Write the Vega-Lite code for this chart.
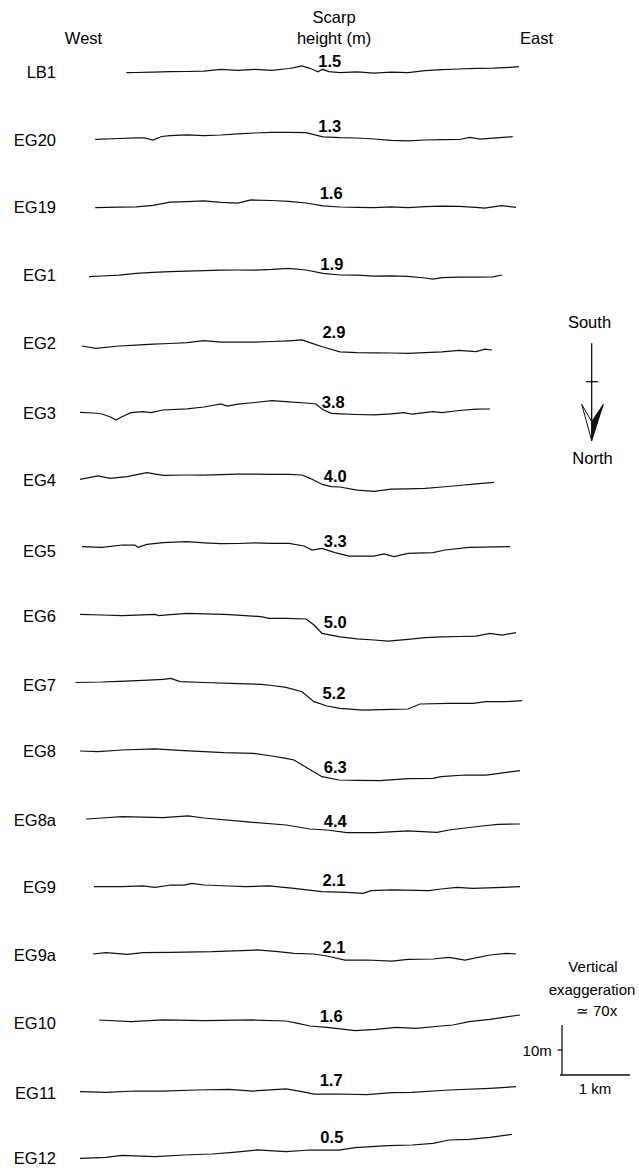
{
"$schema": "https://vega.github.io/schema/vega-lite/v6.json",
"width": 639, "height": 1168, "padding": 0, "autosize": {"type": "none"},
"background": "white",
"config": {"view": {"stroke": null}, "text": {"font": "Liberation Sans", "fill": "#000"}},
"datasets": {
"profiles": [
{"profile":"LB1","km":1.86,"m":-14.54},{"profile":"LB1","km":2.0,"m":-14.5},{"profile":"LB1","km":2.25,"m":-14.44},{"profile":"LB1","km":2.5,"m":-14.34},{"profile":"LB1","km":2.75,"m":-14.3},{"profile":"LB1","km":3.0,"m":-14.24},{"profile":"LB1","km":3.25,"m":-13.88},{"profile":"LB1","km":3.5,"m":-14.06},{"profile":"LB1","km":3.75,"m":-13.86},{"profile":"LB1","km":4.0,"m":-14.06},{"profile":"LB1","km":4.25,"m":-13.7},{"profile":"LB1","km":4.324,"m":-13.54},{"profile":"LB1","km":4.441,"m":-13.2},{"profile":"LB1","km":4.559,"m":-13.66},{"profile":"LB1","km":4.676,"m":-14.34},{"profile":"LB1","km":4.743,"m":-13.86},{"profile":"LB1","km":4.838,"m":-14.34},{"profile":"LB1","km":5.0,"m":-14.54},{"profile":"LB1","km":5.25,"m":-14.36},{"profile":"LB1","km":5.5,"m":-14.6},{"profile":"LB1","km":5.75,"m":-14.42},{"profile":"LB1","km":6.0,"m":-14.52},{"profile":"LB1","km":6.25,"m":-14.14},{"profile":"LB1","km":6.5,"m":-13.94},{"profile":"LB1","km":6.75,"m":-13.8},{"profile":"LB1","km":7.0,"m":-13.66},{"profile":"LB1","km":7.25,"m":-13.62},{"profile":"LB1","km":7.5,"m":-13.46},{"profile":"LB1","km":7.632,"m":-13.34},
{"profile":"EG20","km":1.4,"m":-27.86},{"profile":"EG20","km":1.75,"m":-27.7},{"profile":"EG20","km":2.0,"m":-27.56},{"profile":"EG20","km":2.125,"m":-27.56},{"profile":"EG20","km":2.25,"m":-28.0},{"profile":"EG20","km":2.375,"m":-27.3},{"profile":"EG20","km":2.5,"m":-27.12},{"profile":"EG20","km":2.75,"m":-27.0},{"profile":"EG20","km":3.0,"m":-27.1},{"profile":"EG20","km":3.25,"m":-27.0},{"profile":"EG20","km":3.5,"m":-26.76},{"profile":"EG20","km":3.75,"m":-26.6},{"profile":"EG20","km":4.0,"m":-26.48},{"profile":"EG20","km":4.25,"m":-26.46},{"profile":"EG20","km":4.5,"m":-26.52},{"profile":"EG20","km":4.75,"m":-27.36},{"profile":"EG20","km":5.0,"m":-27.54},{"profile":"EG20","km":5.25,"m":-27.6},{"profile":"EG20","km":5.5,"m":-27.8},{"profile":"EG20","km":5.75,"m":-28.06},{"profile":"EG20","km":6.0,"m":-28.16},{"profile":"EG20","km":6.25,"m":-28.0},{"profile":"EG20","km":6.5,"m":-27.94},{"profile":"EG20","km":6.75,"m":-27.9},{"profile":"EG20","km":6.91,"m":-27.46},{"profile":"EG20","km":7.06,"m":-27.8},{"profile":"EG20","km":7.25,"m":-27.64},{"profile":"EG20","km":7.54,"m":-27.34},
{"profile":"EG19","km":1.4,"m":-41.54},{"profile":"EG19","km":1.75,"m":-41.44},{"profile":"EG19","km":2.0,"m":-41.38},{"profile":"EG19","km":2.25,"m":-41.06},{"profile":"EG19","km":2.5,"m":-40.44},{"profile":"EG19","km":2.75,"m":-40.34},{"profile":"EG19","km":3.0,"m":-40.2},{"profile":"EG19","km":3.25,"m":-40.46},{"profile":"EG19","km":3.5,"m":-40.64},{"profile":"EG19","km":3.69,"m":-40.0},{"profile":"EG19","km":4.0,"m":-40.1},{"profile":"EG19","km":4.25,"m":-40.28},{"profile":"EG19","km":4.5,"m":-40.6},{"profile":"EG19","km":4.75,"m":-41.16},{"profile":"EG19","km":5.0,"m":-41.4},{"profile":"EG19","km":5.25,"m":-41.46},{"profile":"EG19","km":5.5,"m":-41.52},{"profile":"EG19","km":5.75,"m":-41.36},{"profile":"EG19","km":6.0,"m":-41.5},{"profile":"EG19","km":6.25,"m":-41.34},{"profile":"EG19","km":6.5,"m":-41.22},{"profile":"EG19","km":6.75,"m":-41.26},{"profile":"EG19","km":7.0,"m":-41.46},{"profile":"EG19","km":7.125,"m":-41.64},{"profile":"EG19","km":7.375,"m":-41.14},{"profile":"EG19","km":7.588,"m":-41.46},
{"profile":"EG1","km":1.309,"m":-55.34},{"profile":"EG1","km":1.5,"m":-55.2},{"profile":"EG1","km":1.75,"m":-55.02},{"profile":"EG1","km":2.0,"m":-54.66},{"profile":"EG1","km":2.25,"m":-54.46},{"profile":"EG1","km":2.5,"m":-54.34},{"profile":"EG1","km":2.75,"m":-54.24},{"profile":"EG1","km":3.0,"m":-54.14},{"profile":"EG1","km":3.25,"m":-54.04},{"profile":"EG1","km":3.5,"m":-54.0},{"profile":"EG1","km":3.75,"m":-54.0},{"profile":"EG1","km":4.0,"m":-53.88},{"profile":"EG1","km":4.25,"m":-53.66},{"profile":"EG1","km":4.5,"m":-54.0},{"profile":"EG1","km":4.75,"m":-54.68},{"profile":"EG1","km":5.0,"m":-55.0},{"profile":"EG1","km":5.25,"m":-55.02},{"profile":"EG1","km":5.5,"m":-55.22},{"profile":"EG1","km":5.75,"m":-55.2},{"profile":"EG1","km":6.0,"m":-55.26},{"profile":"EG1","km":6.25,"m":-55.6},{"profile":"EG1","km":6.368,"m":-55.8},{"profile":"EG1","km":6.5,"m":-55.54},{"profile":"EG1","km":6.75,"m":-55.42},{"profile":"EG1","km":7.0,"m":-55.42},{"profile":"EG1","km":7.25,"m":-55.36},{"profile":"EG1","km":7.382,"m":-55.0},
{"profile":"EG2","km":1.206,"m":-69.2},{"profile":"EG2","km":1.412,"m":-69.66},{"profile":"EG2","km":1.75,"m":-69.2},{"profile":"EG2","km":2.0,"m":-69.04},{"profile":"EG2","km":2.25,"m":-68.82},{"profile":"EG2","km":2.5,"m":-68.7},{"profile":"EG2","km":2.75,"m":-68.54},{"profile":"EG2","km":3.0,"m":-68.14},{"profile":"EG2","km":3.25,"m":-68.4},{"profile":"EG2","km":3.5,"m":-68.4},{"profile":"EG2","km":3.75,"m":-68.4},{"profile":"EG2","km":4.0,"m":-68.3},{"profile":"EG2","km":4.25,"m":-68.16},{"profile":"EG2","km":4.441,"m":-68.0},{"profile":"EG2","km":4.559,"m":-68.54},{"profile":"EG2","km":4.75,"m":-69.4},{"profile":"EG2","km":5.0,"m":-70.36},{"profile":"EG2","km":5.25,"m":-70.54},{"profile":"EG2","km":5.5,"m":-70.56},{"profile":"EG2","km":5.75,"m":-70.6},{"profile":"EG2","km":6.0,"m":-70.66},{"profile":"EG2","km":6.25,"m":-70.52},{"profile":"EG2","km":6.5,"m":-70.38},{"profile":"EG2","km":6.75,"m":-70.06},{"profile":"EG2","km":7.0,"m":-70.3},{"profile":"EG2","km":7.132,"m":-69.84},{"profile":"EG2","km":7.235,"m":-70.0},
{"profile":"EG3","km":1.176,"m":-82.46},{"profile":"EG3","km":1.375,"m":-82.6},{"profile":"EG3","km":1.5,"m":-82.8},{"profile":"EG3","km":1.625,"m":-83.4},{"profile":"EG3","km":1.706,"m":-84.0},{"profile":"EG3","km":1.794,"m":-83.34},{"profile":"EG3","km":1.926,"m":-82.54},{"profile":"EG3","km":2.103,"m":-82.34},{"profile":"EG3","km":2.221,"m":-82.54},{"profile":"EG3","km":2.397,"m":-82.0},{"profile":"EG3","km":2.75,"m":-81.76},{"profile":"EG3","km":3.0,"m":-81.4},{"profile":"EG3","km":3.25,"m":-80.8},{"profile":"EG3","km":3.338,"m":-81.2},{"profile":"EG3","km":3.5,"m":-80.84},{"profile":"EG3","km":3.75,"m":-80.5},{"profile":"EG3","km":4.0,"m":-80.14},{"profile":"EG3","km":4.25,"m":-80.38},{"profile":"EG3","km":4.5,"m":-80.6},{"profile":"EG3","km":4.647,"m":-80.8},{"profile":"EG3","km":4.75,"m":-81.96},{"profile":"EG3","km":4.875,"m":-82.66},{"profile":"EG3","km":5.0,"m":-82.76},{"profile":"EG3","km":5.25,"m":-82.9},{"profile":"EG3","km":5.5,"m":-82.98},{"profile":"EG3","km":5.75,"m":-82.76},{"profile":"EG3","km":5.941,"m":-82.54},{"profile":"EG3","km":6.059,"m":-82.8},{"profile":"EG3","km":6.368,"m":-82.34},{"profile":"EG3","km":6.5,"m":-82.5},{"profile":"EG3","km":6.75,"m":-82.1},{"profile":"EG3","km":7.0,"m":-81.84},{"profile":"EG3","km":7.206,"m":-81.8},
{"profile":"EG4","km":1.176,"m":-95.86},{"profile":"EG4","km":1.441,"m":-95.2},{"profile":"EG4","km":1.618,"m":-95.66},{"profile":"EG4","km":1.868,"m":-95.34},{"profile":"EG4","km":2.162,"m":-94.54},{"profile":"EG4","km":2.397,"m":-95.06},{"profile":"EG4","km":2.75,"m":-95.0},{"profile":"EG4","km":3.0,"m":-95.0},{"profile":"EG4","km":3.25,"m":-94.94},{"profile":"EG4","km":3.5,"m":-94.84},{"profile":"EG4","km":3.75,"m":-94.82},{"profile":"EG4","km":4.0,"m":-94.86},{"profile":"EG4","km":4.25,"m":-94.88},{"profile":"EG4","km":4.441,"m":-95.0},{"profile":"EG4","km":4.559,"m":-95.66},{"profile":"EG4","km":4.75,"m":-96.94},{"profile":"EG4","km":4.875,"m":-97.34},{"profile":"EG4","km":5.0,"m":-97.4},{"profile":"EG4","km":5.25,"m":-98.04},{"profile":"EG4","km":5.5,"m":-98.28},{"profile":"EG4","km":5.75,"m":-97.84},{"profile":"EG4","km":6.0,"m":-97.76},{"profile":"EG4","km":6.25,"m":-97.66},{"profile":"EG4","km":6.5,"m":-97.4},{"profile":"EG4","km":6.75,"m":-97.1},{"profile":"EG4","km":7.0,"m":-96.76},{"profile":"EG4","km":7.265,"m":-96.46},
{"profile":"EG5","km":1.206,"m":-109.34},{"profile":"EG5","km":1.5,"m":-109.46},{"profile":"EG5","km":1.794,"m":-109.0},{"profile":"EG5","km":1.985,"m":-109.0},{"profile":"EG5","km":2.029,"m":-109.46},{"profile":"EG5","km":2.162,"m":-108.86},{"profile":"EG5","km":2.397,"m":-108.54},{"profile":"EG5","km":2.75,"m":-108.34},{"profile":"EG5","km":3.0,"m":-108.56},{"profile":"EG5","km":3.25,"m":-108.72},{"profile":"EG5","km":3.5,"m":-108.7},{"profile":"EG5","km":3.75,"m":-108.56},{"profile":"EG5","km":4.0,"m":-108.66},{"profile":"EG5","km":4.25,"m":-108.66},{"profile":"EG5","km":4.471,"m":-109.2},{"profile":"EG5","km":4.588,"m":-110.0},{"profile":"EG5","km":4.735,"m":-109.66},{"profile":"EG5","km":4.926,"m":-110.54},{"profile":"EG5","km":5.132,"m":-111.2},{"profile":"EG5","km":5.5,"m":-111.2},{"profile":"EG5","km":5.647,"m":-110.8},{"profile":"EG5","km":5.794,"m":-111.34},{"profile":"EG5","km":6.0,"m":-110.66},{"profile":"EG5","km":6.368,"m":-110.54},{"profile":"EG5","km":6.544,"m":-110.0},{"profile":"EG5","km":6.897,"m":-109.46},{"profile":"EG5","km":7.5,"m":-109.34},
{"profile":"EG6","km":1.176,"m":-122.86},{"profile":"EG6","km":1.5,"m":-123.0},{"profile":"EG6","km":1.794,"m":-123.14},{"profile":"EG6","km":2.0,"m":-123.04},{"profile":"EG6","km":2.279,"m":-122.86},{"profile":"EG6","km":2.338,"m":-123.14},{"profile":"EG6","km":2.5,"m":-122.92},{"profile":"EG6","km":2.765,"m":-122.66},{"profile":"EG6","km":3.0,"m":-122.76},{"profile":"EG6","km":3.294,"m":-122.86},{"profile":"EG6","km":3.5,"m":-123.04},{"profile":"EG6","km":3.838,"m":-123.34},{"profile":"EG6","km":3.956,"m":-123.66},{"profile":"EG6","km":4.206,"m":-123.66},{"profile":"EG6","km":4.5,"m":-123.8},{"profile":"EG6","km":4.618,"m":-125.0},{"profile":"EG6","km":4.735,"m":-126.66},{"profile":"EG6","km":5.0,"m":-127.36},{"profile":"EG6","km":5.25,"m":-127.76},{"profile":"EG6","km":5.5,"m":-128.0},{"profile":"EG6","km":5.706,"m":-128.2},{"profile":"EG6","km":6.0,"m":-127.86},{"profile":"EG6","km":6.25,"m":-127.54},{"profile":"EG6","km":6.5,"m":-127.38},{"profile":"EG6","km":6.75,"m":-127.3},{"profile":"EG6","km":7.0,"m":-127.22},{"profile":"EG6","km":7.206,"m":-126.66},{"profile":"EG6","km":7.382,"m":-127.0},{"profile":"EG6","km":7.588,"m":-126.54},
{"profile":"EG7","km":1.11,"m":-136.5},{"profile":"EG7","km":1.5,"m":-136.4},{"profile":"EG7","km":1.75,"m":-136.26},{"profile":"EG7","km":2.103,"m":-136.06},{"profile":"EG7","km":2.397,"m":-135.86},{"profile":"EG7","km":2.515,"m":-135.66},{"profile":"EG7","km":2.647,"m":-136.34},{"profile":"EG7","km":3.0,"m":-136.5},{"profile":"EG7","km":3.5,"m":-136.72},{"profile":"EG7","km":3.838,"m":-136.86},{"profile":"EG7","km":4.0,"m":-137.1},{"profile":"EG7","km":4.206,"m":-137.46},{"profile":"EG7","km":4.441,"m":-138.34},{"profile":"EG7","km":4.618,"m":-140.34},{"profile":"EG7","km":4.809,"m":-141.2},{"profile":"EG7","km":5.0,"m":-141.68},{"profile":"EG7","km":5.338,"m":-142.0},{"profile":"EG7","km":5.75,"m":-141.88},{"profile":"EG7","km":6.0,"m":-141.8},{"profile":"EG7","km":6.176,"m":-140.8},{"profile":"EG7","km":6.603,"m":-140.66},{"profile":"EG7","km":6.956,"m":-140.66},{"profile":"EG7","km":7.147,"m":-140.34},{"profile":"EG7","km":7.441,"m":-140.34},{"profile":"EG7","km":7.676,"m":-140.14},
{"profile":"EG8","km":1.176,"m":-150.2},{"profile":"EG8","km":1.441,"m":-150.34},{"profile":"EG8","km":1.794,"m":-150.0},{"profile":"EG8","km":2.279,"m":-149.8},{"profile":"EG8","km":2.706,"m":-150.14},{"profile":"EG8","km":3.0,"m":-150.34},{"profile":"EG8","km":3.294,"m":-150.54},{"profile":"EG8","km":3.721,"m":-150.66},{"profile":"EG8","km":4.0,"m":-151.2},{"profile":"EG8","km":4.206,"m":-151.66},{"profile":"EG8","km":4.324,"m":-152.0},{"profile":"EG8","km":4.5,"m":-153.46},{"profile":"EG8","km":4.735,"m":-155.34},{"profile":"EG8","km":4.985,"m":-156.0},{"profile":"EG8","km":5.25,"m":-156.06},{"profile":"EG8","km":5.588,"m":-156.14},{"profile":"EG8","km":6.0,"m":-155.74},{"profile":"EG8","km":6.368,"m":-155.66},{"profile":"EG8","km":6.485,"m":-155.34},{"profile":"EG8","km":6.838,"m":-155.0},{"profile":"EG8","km":7.147,"m":-155.0},{"profile":"EG8","km":7.647,"m":-154.14},
{"profile":"EG8a","km":1.265,"m":-163.8},{"profile":"EG8a","km":1.5,"m":-163.6},{"profile":"EG8a","km":1.794,"m":-163.34},{"profile":"EG8a","km":2.397,"m":-163.54},{"profile":"EG8a","km":2.765,"m":-163.2},{"profile":"EG8a","km":3.0,"m":-163.6},{"profile":"EG8a","km":3.603,"m":-164.34},{"profile":"EG8a","km":4.206,"m":-165.0},{"profile":"EG8a","km":4.559,"m":-165.8},{"profile":"EG8a","km":4.809,"m":-166.0},{"profile":"EG8a","km":5.103,"m":-166.54},{"profile":"EG8a","km":5.529,"m":-166.54},{"profile":"EG8a","km":6.0,"m":-166.2},{"profile":"EG8a","km":6.426,"m":-166.46},{"profile":"EG8a","km":6.603,"m":-166.0},{"profile":"EG8a","km":7.088,"m":-165.2},{"profile":"EG8a","km":7.324,"m":-164.86},{"profile":"EG8a","km":7.647,"m":-164.8},
{"profile":"EG9","km":1.382,"m":-177.34},{"profile":"EG9","km":1.794,"m":-177.34},{"profile":"EG9","km":2.103,"m":-177.2},{"profile":"EG9","km":2.279,"m":-177.46},{"profile":"EG9","km":2.515,"m":-177.0},{"profile":"EG9","km":2.706,"m":-177.0},{"profile":"EG9","km":2.824,"m":-176.66},{"profile":"EG9","km":3.0,"m":-177.0},{"profile":"EG9","km":3.368,"m":-177.2},{"profile":"EG9","km":3.603,"m":-177.34},{"profile":"EG9","km":3.956,"m":-177.2},{"profile":"EG9","km":4.324,"m":-177.66},{"profile":"EG9","km":4.735,"m":-178.34},{"profile":"EG9","km":5.103,"m":-178.46},{"profile":"EG9","km":5.338,"m":-178.66},{"profile":"EG9","km":5.456,"m":-178.14},{"profile":"EG9","km":5.765,"m":-178.0},{"profile":"EG9","km":6.309,"m":-178.14},{"profile":"EG9","km":6.485,"m":-177.8},{"profile":"EG9","km":6.721,"m":-177.46},{"profile":"EG9","km":6.956,"m":-177.66},{"profile":"EG9","km":7.647,"m":-177.34},
{"profile":"EG9a","km":1.368,"m":-190.8},{"profile":"EG9a","km":1.559,"m":-190.54},{"profile":"EG9a","km":1.868,"m":-190.86},{"profile":"EG9a","km":2.103,"m":-190.54},{"profile":"EG9a","km":2.515,"m":-190.46},{"profile":"EG9a","km":3.118,"m":-190.34},{"profile":"EG9a","km":3.779,"m":-190.0},{"profile":"EG9a","km":4.088,"m":-190.34},{"profile":"EG9a","km":4.324,"m":-190.66},{"profile":"EG9a","km":4.618,"m":-190.8},{"profile":"EG9a","km":4.809,"m":-191.2},{"profile":"EG9a","km":5.074,"m":-192.0},{"profile":"EG9a","km":5.397,"m":-192.0},{"profile":"EG9a","km":5.765,"m":-192.2},{"profile":"EG9a","km":6.0,"m":-191.86},{"profile":"EG9a","km":6.368,"m":-191.8},{"profile":"EG9a","km":6.603,"m":-191.46},{"profile":"EG9a","km":6.838,"m":-192.0},{"profile":"EG9a","km":7.206,"m":-191.0},{"profile":"EG9a","km":7.441,"m":-190.66},{"profile":"EG9a","km":7.588,"m":-190.8},
{"profile":"EG10","km":1.456,"m":-204.0},{"profile":"EG10","km":1.926,"m":-204.34},{"profile":"EG10","km":2.397,"m":-204.0},{"profile":"EG10","km":3.0,"m":-204.14},{"profile":"EG10","km":3.721,"m":-204.0},{"profile":"EG10","km":4.206,"m":-204.2},{"profile":"EG10","km":4.382,"m":-204.66},{"profile":"EG10","km":4.559,"m":-205.2},{"profile":"EG10","km":4.809,"m":-205.46},{"profile":"EG10","km":5.221,"m":-206.14},{"profile":"EG10","km":5.529,"m":-205.86},{"profile":"EG10","km":5.824,"m":-205.46},{"profile":"EG10","km":6.118,"m":-205.66},{"profile":"EG10","km":6.485,"m":-205.2},{"profile":"EG10","km":6.662,"m":-205.0},{"profile":"EG10","km":6.897,"m":-204.34},{"profile":"EG10","km":7.206,"m":-203.86},{"profile":"EG10","km":7.647,"m":-203.0},
{"profile":"EG11","km":1.176,"m":-218.34},{"profile":"EG11","km":1.559,"m":-218.46},{"profile":"EG11","km":1.985,"m":-218.2},{"profile":"EG11","km":2.397,"m":-218.2},{"profile":"EG11","km":2.882,"m":-218.0},{"profile":"EG11","km":3.368,"m":-217.86},{"profile":"EG11","km":3.721,"m":-218.2},{"profile":"EG11","km":4.206,"m":-217.8},{"profile":"EG11","km":4.441,"m":-218.34},{"profile":"EG11","km":4.618,"m":-218.8},{"profile":"EG11","km":4.985,"m":-218.8},{"profile":"EG11","km":5.397,"m":-218.94},{"profile":"EG11","km":5.765,"m":-218.54},{"profile":"EG11","km":6.059,"m":-218.46},{"profile":"EG11","km":6.603,"m":-218.0},{"profile":"EG11","km":7.206,"m":-217.66},{"profile":"EG11","km":7.588,"m":-217.34},
{"profile":"EG12","km":1.176,"m":-231.66},{"profile":"EG12","km":1.559,"m":-231.46},{"profile":"EG12","km":1.794,"m":-231.06},{"profile":"EG12","km":2.279,"m":-231.34},{"profile":"EG12","km":2.706,"m":-231.0},{"profile":"EG12","km":3.118,"m":-230.8},{"profile":"EG12","km":3.426,"m":-230.46},{"profile":"EG12","km":3.779,"m":-230.0},{"profile":"EG12","km":4.206,"m":-230.34},{"profile":"EG12","km":4.559,"m":-230.0},{"profile":"EG12","km":4.985,"m":-230.0},{"profile":"EG12","km":5.221,"m":-229.54},{"profile":"EG12","km":5.706,"m":-229.14},{"profile":"EG12","km":6.059,"m":-229.0},{"profile":"EG12","km":6.368,"m":-228.66},{"profile":"EG12","km":6.603,"m":-228.0},{"profile":"EG12","km":6.897,"m":-227.86},{"profile":"EG12","km":7.206,"m":-227.46},{"profile":"EG12","km":7.529,"m":-226.86}
],
"sites": [
{"profile":"LB1","km":0.824,"m":-14.6,"scarp":"1.5","scarp_km":4.85,"scarp_m":-12.4},
{"profile":"EG20","km":0.824,"m":-28.2,"scarp":"1.3","scarp_km":4.85,"scarp_m":-25.4},
{"profile":"EG19","km":0.824,"m":-41.6,"scarp":"1.6","scarp_km":4.87,"scarp_m":-38.8},
{"profile":"EG1","km":0.824,"m":-55.2,"scarp":"1.9","scarp_km":4.88,"scarp_m":-53.0},
{"profile":"EG2","km":0.824,"m":-68.8,"scarp":"2.9","scarp_km":4.91,"scarp_m":-66.6},
{"profile":"EG3","km":0.824,"m":-82.8,"scarp":"3.8","scarp_km":4.9,"scarp_m":-80.6},
{"profile":"EG4","km":0.824,"m":-96.2,"scarp":"4.0","scarp_km":4.93,"scarp_m":-95.4},
{"profile":"EG5","km":0.824,"m":-110.4,"scarp":"3.3","scarp_km":4.93,"scarp_m":-108.4},
{"profile":"EG6","km":0.824,"m":-123.4,"scarp":"5.0","scarp_km":4.93,"scarp_m":-124.6},
{"profile":"EG7","km":0.824,"m":-137.2,"scarp":"5.2","scarp_km":4.91,"scarp_m":-138.8},
{"profile":"EG8","km":0.824,"m":-150.4,"scarp":"6.3","scarp_km":4.93,"scarp_m":-153.6},
{"profile":"EG8a","km":0.824,"m":-164.2,"scarp":"4.4","scarp_km":4.93,"scarp_m":-164.4},
{"profile":"EG9","km":0.824,"m":-177.6,"scarp":"2.1","scarp_km":4.91,"scarp_m":-176.2},
{"profile":"EG9a","km":0.824,"m":-191.2,"scarp":"2.1","scarp_km":4.91,"scarp_m":-189.6},
{"profile":"EG10","km":0.824,"m":-204.8,"scarp":"1.6","scarp_km":4.87,"scarp_m":-203.4},
{"profile":"EG11","km":0.824,"m":-218.8,"scarp":"1.7","scarp_km":4.87,"scarp_m":-216.2},
{"profile":"EG12","km":0.824,"m":-231.8,"scarp":"0.5","scarp_km":4.88,"scarp_m":-227.6}
],
"notes": [
{"label":"West","km":1.228,"m":-7.7},
{"label":"East","km":7.89,"m":-7.7},
{"label":"Scarp","km":4.912,"m":-3.6},
{"label":"height (m)","km":4.912,"m":-7.8},
{"label":"South","km":8.669,"m":-64.6},
{"label":"North","km":8.713,"m":-91.8}
],
"scalenotes": [
{"label":"Vertical","km":8.72,"m":-193.4},
{"label":"exaggeration","km":8.706,"m":-197.9},
{"label":"≃ 70x","km":8.772,"m":-202.2},
{"label":"10m","km":7.9,"m":-210.2},
{"label":"1 km","km":8.75,"m":-217.8}
],
"bars": [
{"part":"scale vertical","km":8.265,"km2":8.265,"m":-215,"m2":-205},
{"part":"scale horizontal","km":8.235,"km2":9.265,"m":-215,"m2":-215},
{"part":"scale tick","km":8.2,"km2":8.265,"m":-210,"m2":-210},
{"part":"arrow shaft","km":8.701,"km2":8.701,"m":-68.67,"m2":-86},
{"part":"arrow crossbar","km":8.618,"km2":8.794,"m":-76.34,"m2":-76.34}
],
"head": [
{"part":"open","km":8.554,"m":-80.86,"m2":-80.86},
{"part":"open","km":8.701,"m":-88.14,"m2":-84.34},
{"part":"solid","km":8.701,"m":-88.14,"m2":-84.34},
{"part":"solid","km":8.872,"m":-80.86,"m2":-80.86}
]
},
"encoding": {
"x": {"field": "km", "type": "quantitative", "scale": {"domain": [0, 9.397], "nice": false, "zero": false}, "axis": null},
"y": {"field": "m", "type": "quantitative", "scale": {"domain": [-233.6, 0], "nice": false, "zero": false}, "axis": null}
},
"layer": [
{"data": {"name": "profiles"}, "mark": {"type": "line", "stroke": "#111", "strokeWidth": 1.25},
 "encoding": {"detail": {"field": "profile", "type": "nominal"}}},
{"data": {"name": "sites"}, "mark": {"type": "text", "align": "right", "baseline": "middle", "fontSize": 16.5},
 "encoding": {"text": {"field": "profile", "type": "nominal"}}},
{"data": {"name": "sites"}, "mark": {"type": "text", "align": "center", "baseline": "middle", "fontSize": 16.5, "fontWeight": "bold"},
 "encoding": {"x": {"field": "scarp_km", "type": "quantitative"}, "y": {"field": "scarp_m", "type": "quantitative"}, "text": {"field": "scarp", "type": "nominal"}}},
{"data": {"name": "notes"}, "mark": {"type": "text", "align": "center", "baseline": "middle", "fontSize": 16.5},
 "encoding": {"text": {"field": "label", "type": "nominal"}}},
{"data": {"name": "scalenotes"}, "mark": {"type": "text", "align": "center", "baseline": "middle", "fontSize": 15},
 "encoding": {"text": {"field": "label", "type": "nominal"}}},
{"data": {"name": "bars"}, "mark": {"type": "rule", "stroke": "#111", "strokeWidth": 1.3},
 "encoding": {"x2": {"field": "km2"}, "y2": {"field": "m2"}}},
{"data": {"name": "head"}, "transform": [{"filter": "datum.part == 'open'"}], "mark": {"type": "area", "fill": "white", "stroke": "#111", "strokeWidth": 1},
 "encoding": {"y2": {"field": "m2"}}},
{"data": {"name": "head"}, "transform": [{"filter": "datum.part == 'solid'"}], "mark": {"type": "area", "fill": "#111", "stroke": "#111", "strokeWidth": 1},
 "encoding": {"y2": {"field": "m2"}}}
]
}
